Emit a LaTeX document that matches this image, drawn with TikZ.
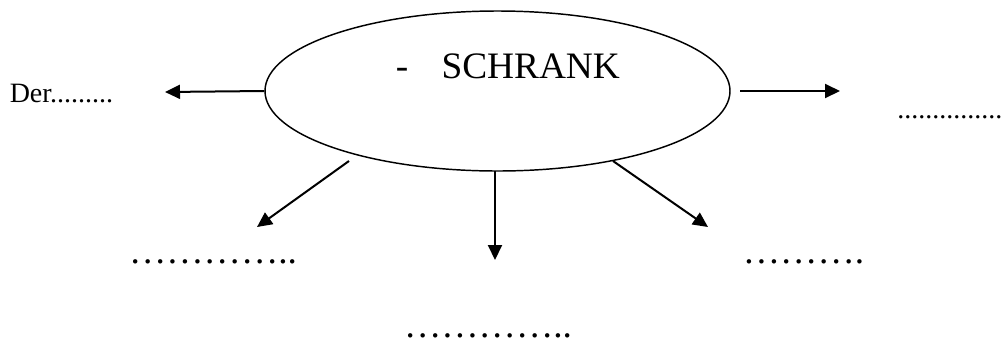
\documentclass[tikz,border=0pt]{standalone}
\usepackage{fontspec}
\setmainfont{Liberation Serif}
\usetikzlibrary{arrows.meta,shapes.geometric}
\begin{document}
\begin{tikzpicture}[x=0.75pt,y=-0.75pt,
  conn/.style={line width=1.5pt,-{Triangle[length=11.25pt,width=10.5pt]}},
  bigtxt/.style={inner sep=0pt,font=\fontsize{28}{32}\selectfont},
  smalltxt/.style={inner sep=0pt,font=\fontsize{21}{25}\selectfont}]
\useasboundingbox[fill=white] (0,0) rectangle (1001,340);
% central ellipse
\node[ellipse,draw,line width=1.1pt,minimum width=348.75pt,minimum height=120pt,inner sep=0pt] (main) at (497.5,91) {};
\node[bigtxt,anchor=base west] (title) at (395.5,78) {-\hspace{25pt}SCHRANK};
% labels
\node[smalltxt,anchor=base west] (der) at (9.5,102) {Der.........};
\node[smalltxt,anchor=base west] (rtop) at (897,118) {...............};
\node[bigtxt,anchor=base] (lft) at (213,263) {…………..};
\node[bigtxt,anchor=base] (rgt) at (803.5,263) {……….};
\node[bigtxt,anchor=base] (bot) at (488,337.5) {…………..};
% connector end points
\coordinate (tipL) at (165,92);
\coordinate (startR) at (740,91);
\coordinate (tipR) at (840,91);
\coordinate (startDL) at (349,161);
\coordinate (tipDL) at (257,227);
\coordinate (startD) at (495,171);
\coordinate (tipD) at (495,260);
\coordinate (startDR) at (613,161);
\coordinate (tipDR) at (708,227);
% connectors
\draw[conn] (main.west) -- (tipL);
\draw[conn] (startR) -- (tipR);
\draw[conn] (startDL) -- (tipDL);
\draw[conn] (startD) -- (tipD);
\draw[conn] (startDR) -- (tipDR);
\end{tikzpicture}
\end{document}
